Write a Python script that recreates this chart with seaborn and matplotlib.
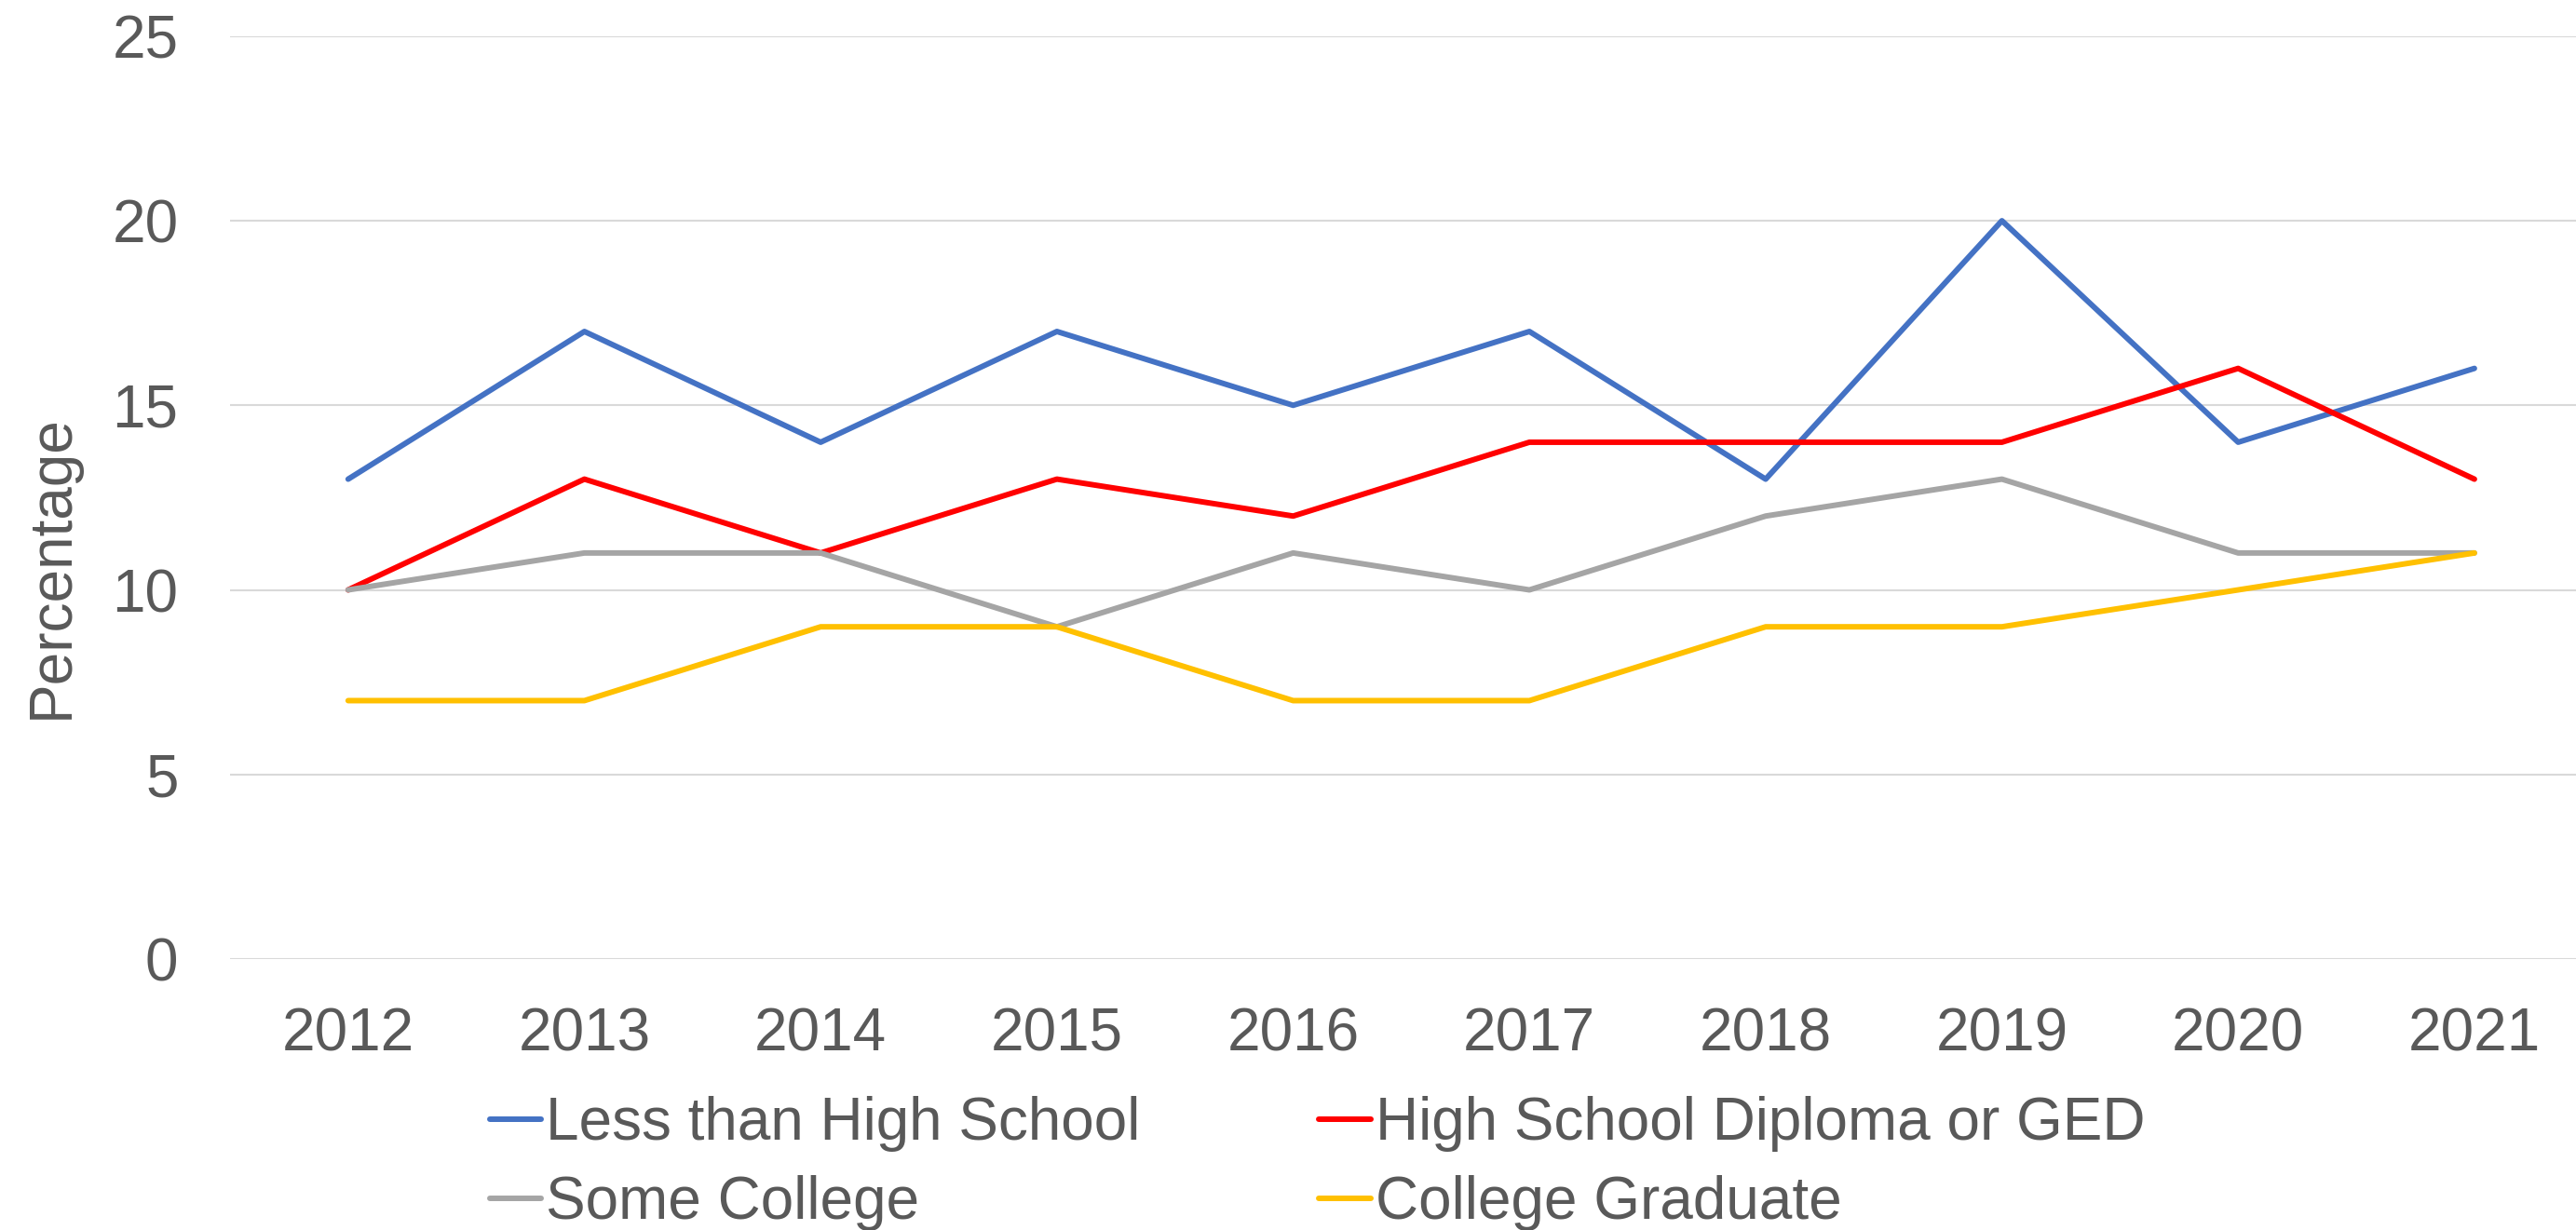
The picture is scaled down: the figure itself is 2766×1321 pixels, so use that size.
import pandas as pd
import numpy as np
import matplotlib
matplotlib.use("Agg")
import matplotlib.pyplot as plt
import seaborn as sns

# Data
years = [2012, 2013, 2014, 2015, 2016, 2017, 2018, 2019, 2020, 2021]
less_than_hs = [13, 17, 14, 17, 15, 17, 13, 20, 14, 16]
hs_diploma = [10, 13, 11, 13, 12, 14, 14, 14, 16, 13]
some_college = [10, 11, 11, 9, 11, 10, 12, 13, 11, 11]
college_grad = [7, 7, 9, 9, 7, 7, 9, 9, 10, 11]

series_names = ["Less than High School", "High School Diploma or GED",
                "Some College", "College Graduate"]
series_colors = ["#4472C4", "#FF0000", "#A5A5A5", "#FFC000"]

# long-form table for seaborn
df = pd.DataFrame({
    "Year": years * 4,
    "Percentage": less_than_hs + hs_diploma + some_college + college_grad,
    "Group": np.repeat(series_names, len(years)),
})

sns.set_style("white")
plt.rcParams["font.family"] = ["Liberation Sans", "DejaVu Sans"]
text_color = "#595959"
fs = 46

fig = plt.figure(figsize=(27.66, 13.21), dpi=100)
ax = fig.add_axes([0.0893, 0.2203, 0.9107, 0.7503])

sns.lineplot(data=df, x="Year", y="Percentage", hue="Group",
             hue_order=series_names, palette=series_colors,
             linewidth=4.3, ax=ax, legend=True)

ax.set_ylim(0, 25)
ax.set_yticks([0, 5, 10, 15, 20, 25])
ax.set_xlim(years[0] - 0.5, years[-1] + 0.43)
ax.set_xticks(years)
ax.set_xticklabels([str(y) for y in years])
ax.grid(axis="y", color="#D9D9D9", linewidth=1.5)
ax.set_axisbelow(True)
for s in ax.spines.values():
    s.set_visible(False)
ax.tick_params(axis="both", length=0, labelsize=fs, colors=text_color)
ax.tick_params(axis="y", pad=40)
ax.tick_params(axis="x", pad=37)

ax.set_xlabel("")
ax.set_ylabel("Percentage", fontsize=fs, color=text_color)
ax.yaxis.set_label_coords(-0.064, 0.425)

# legend below plot, filled row-wise
handles, labels = ax.get_legend_handles_labels()
ax.get_legend().remove()
for h in handles:
    h.set_solid_capstyle("round")
order = [0, 2, 1, 3]
leg = fig.legend([handles[i] for i in order], [labels[i] for i in order],
                 ncol=2, loc="upper left", bbox_to_anchor=(0.19, 0.109),
                 frameon=False, fontsize=fs, handlelength=0.87,
                 handletextpad=0.08, columnspacing=3.0, labelspacing=0.39,
                 borderaxespad=0, borderpad=0)
for t in leg.get_texts():
    t.set_color(text_color)

fig.savefig("out.png", dpi=100, facecolor="white")
